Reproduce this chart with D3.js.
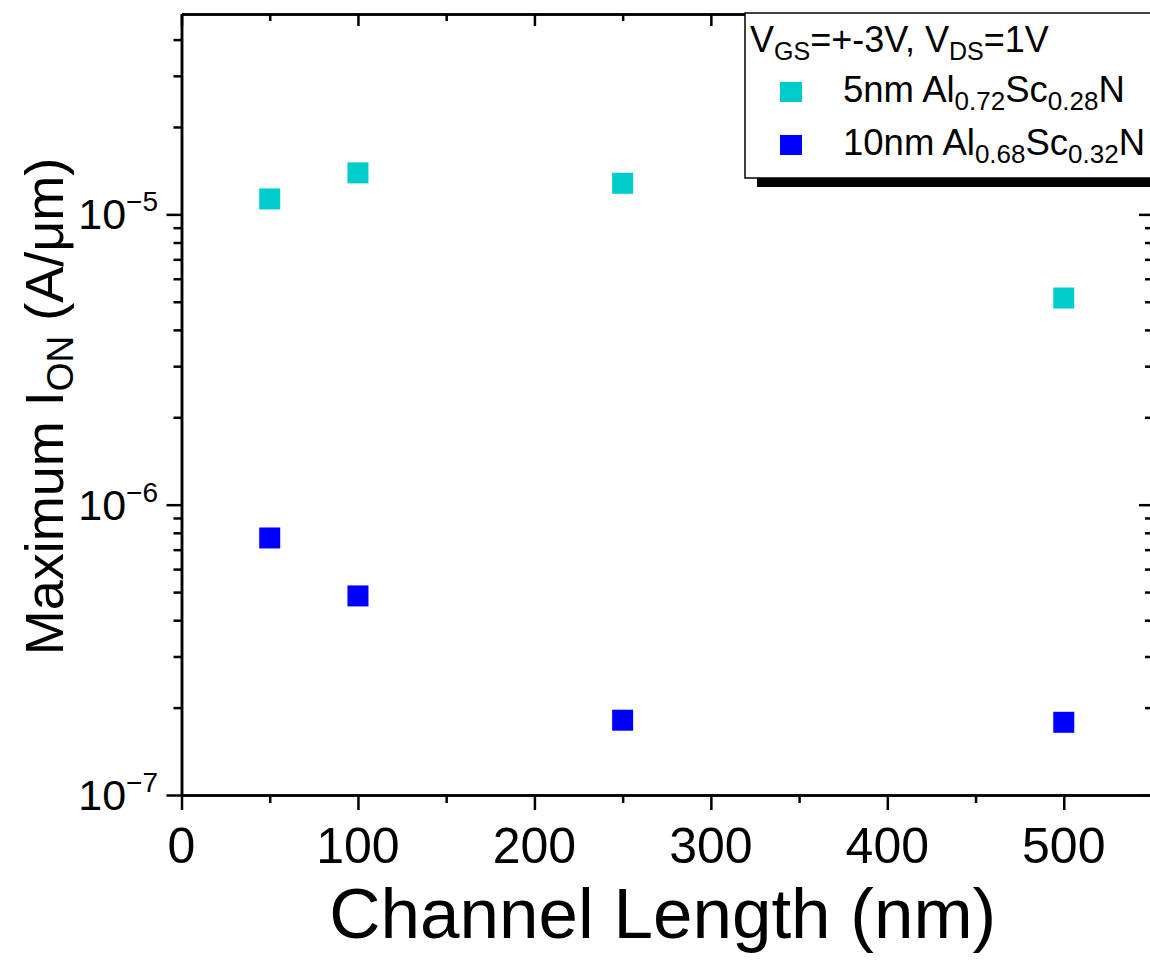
<!DOCTYPE html>
<html>
<head>
<meta charset="utf-8">
<script src="https://cdn.jsdelivr.net/npm/d3@7"></script>
<style>
  html, body { margin: 0; padding: 0; background: #fff; }
  svg { display: block; font-family: "Liberation Sans", Arial, sans-serif; }
</style>
</head>
<body>
<svg id="chart" width="1150" height="960"></svg>
<script>
// ---- data ----
const channelLengths = [50, 100, 250, 500];
const ion5nm  = [1.13e-5, 1.39e-5, 1.28e-5, 5.15e-6];
const ion10nm = [7.68e-7, 4.85e-7, 1.81e-7, 1.78e-7];
const xTicks = [0, 100, 200, 300, 400, 500];
const xMinorTicks = [50, 150, 250, 350, 450];
const yTicks = [1e-7, 1e-6, 1e-5];
const yTickExps = ["\u22127", "\u22126", "\u22125"];
const yMinorTicks = [2e-7,3e-7,4e-7,5e-7,6e-7,7e-7,8e-7,9e-7,
                     2e-6,3e-6,4e-6,5e-6,6e-6,7e-6,8e-6,9e-6,
                     2e-5,3e-5,4e-5];

// ---- layout ----
const L = 181.5, R = 1152, T = 14, B = 795;
const svg = d3.select("#chart");
const x = d3.scaleLinear().domain([0, 550]).range([L, R]);
const y = d3.scaleLog().domain([1e-7, 4.9e-5]).range([B, T]);

const colors = ["#00CCCC", "#0000FF"];
const AW = 2.5;

function styleAxis(g) {
  g.selectAll("path,line").attr("stroke", "#000").attr("stroke-width", AW);
  g.selectAll("text").remove();
}

// bottom axis
svg.append("g").attr("transform", `translate(0,${B})`)
  .call(d3.axisBottom(x).tickValues(xTicks).tickSize(15).tickSizeOuter(0).tickFormat(""))
  .call(styleAxis);
svg.append("g").attr("transform", `translate(0,${B})`)
  .call(d3.axisBottom(x).tickValues(xMinorTicks).tickSize(8).tickSizeOuter(0).tickFormat(""))
  .call(styleAxis);
// top axis (inward ticks)
svg.append("g").attr("transform", `translate(0,${T})`)
  .call(d3.axisBottom(x).tickValues(xTicks).tickSize(12).tickSizeOuter(0).tickFormat(""))
  .call(styleAxis);
svg.append("g").attr("transform", `translate(0,${T})`)
  .call(d3.axisBottom(x).tickValues(xMinorTicks).tickSize(7).tickSizeOuter(0).tickFormat(""))
  .call(styleAxis);
// left axis
svg.append("g").attr("transform", `translate(${L},0)`)
  .call(d3.axisLeft(y).tickValues(yTicks).tickSize(15).tickSizeOuter(0).tickFormat(""))
  .call(styleAxis);
svg.append("g").attr("transform", `translate(${L},0)`)
  .call(d3.axisLeft(y).tickValues(yMinorTicks).tickSize(8).tickSizeOuter(0).tickFormat(""))
  .call(styleAxis);
// right axis (inward ticks)
svg.append("g").attr("transform", `translate(${R},0)`)
  .call(d3.axisLeft(y).tickValues(yTicks).tickSize(13).tickSizeOuter(0).tickFormat(""))
  .call(styleAxis);
svg.append("g").attr("transform", `translate(${R},0)`)
  .call(d3.axisLeft(y).tickValues(yMinorTicks).tickSize(7).tickSizeOuter(0).tickFormat(""))
  .call(styleAxis);

// x tick labels
svg.append("g").selectAll("text").data(xTicks).join("text")
  .attr("x", d => x(d)).attr("y", 863)
  .attr("text-anchor", "middle").attr("font-size", 50).attr("fill", "#000")
  .text(d => d);

// y tick labels
const yl = svg.append("g").selectAll("text").data(yTicks).join("text")
  .attr("x", 158).attr("y", d => y(d) + 15)
  .attr("text-anchor", "end").attr("font-size", 43).attr("fill", "#000");
yl.append("tspan").text("10");
yl.append("tspan").attr("dy", -18).attr("font-size", 28).text((d, i) => yTickExps[i]);

// axis titles
svg.append("text").attr("x", (L + R) / 2 - 4).attr("y", 938)
  .attr("text-anchor", "middle").attr("font-size", 71).attr("fill", "#000")
  .text("Channel Length (nm)");

const yt = svg.append("text")
  .attr("transform", `translate(63,${(T + B) / 2 + 2}) rotate(-90)`)
  .attr("text-anchor", "middle").attr("font-size", 54).attr("fill", "#000");
yt.append("tspan").text("Maximum I");
yt.append("tspan").attr("font-size", 37).attr("dy", 10).text("ON");
yt.append("tspan").attr("dy", -10).text(" (A/\u03BCm)");

// markers
const MS = 21;
const series = [ion5nm, ion10nm];
series.forEach((vals, si) => {
  svg.append("g").selectAll("rect").data(vals).join("rect")
    .attr("x", (d, i) => x(channelLengths[i]) - MS / 2)
    .attr("y", d => y(d) - MS / 2)
    .attr("width", MS).attr("height", MS)
    .attr("fill", colors[si]);
});

// legend
const lg = svg.append("g");
const LX = 745, LY = 13, LW = 1160 - 745, LH = 178 - 13;
lg.append("rect").attr("x", LX + 12).attr("y", LY + LH).attr("width", LW).attr("height", 9).attr("fill", "#000");
lg.append("rect").attr("x", LX).attr("y", LY).attr("width", LW).attr("height", LH)
  .attr("fill", "#fff").attr("stroke", "#000").attr("stroke-width", 1.5);

const title = lg.append("text").attr("x", 750).attr("y", 52).attr("font-size", 36).attr("fill", "#000");
title.append("tspan").text("V");
title.append("tspan").attr("font-size", 25).attr("dy", 8).text("GS");
title.append("tspan").attr("dy", -8).text("=+-3V, V");
title.append("tspan").attr("font-size", 25).attr("dy", 8).text("DS");
title.append("tspan").attr("dy", -8).text("=1V");

const legendItems = [
  ["5nm Al", "0.72", "Sc", "0.28", "N"],
  ["10nm Al", "0.68", "Sc", "0.32", "N"]
];
legendItems.forEach((parts, i) => {
  const cy = 92 + i * 53;
  lg.append("rect").attr("x", 791 - 11).attr("y", cy - 10).attr("width", 22).attr("height", 20)
    .attr("fill", colors[i]);
  const t = lg.append("text").attr("x", 843).attr("y", cy + 10).attr("font-size", 36.5).attr("fill", "#000");
  parts.forEach((p, k) => {
    const sub = k % 2 === 1;
    const ts = t.append("tspan").text(p);
    if (sub) ts.attr("font-size", 26).attr("dy", 8);
    else if (k > 0) ts.attr("dy", -8);
  });
});
</script>
</body>
</html>
